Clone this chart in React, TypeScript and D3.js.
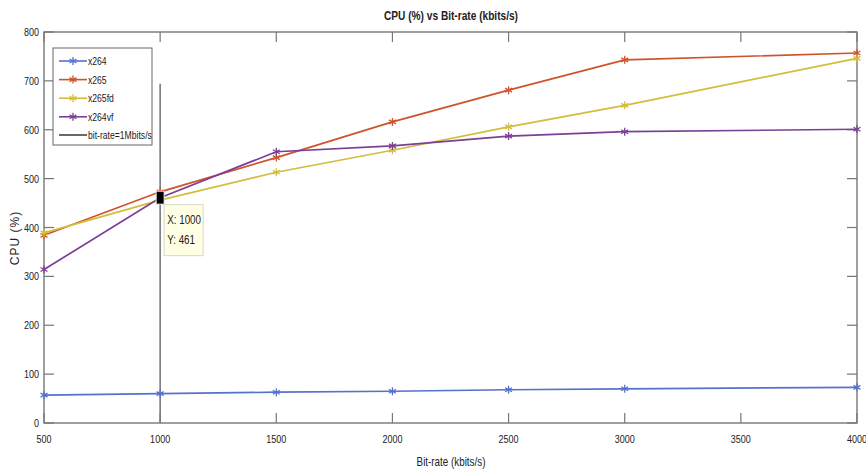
import React from "react";
import * as d3 from "d3";

const bitrates = [500, 1000, 1500, 2000, 2500, 3000, 4000];
const x264 = [57, 60, 63, 65, 68, 70, 73];
const x265 = [384, 473, 543, 616, 681, 743, 757];
const x265fd = [389, 456, 513, 558, 606, 650, 746];
const x264vf = [314, 461, 555, 567, 587, 596, 601];
const seriesNames = ["x264", "x265", "x265fd", "x264vf"];
const seriesColors = ["#5572cc", "#d0522a", "#d2be3a", "#7b3f96"];
const xTicks = [500, 1000, 1500, 2000, 2500, 3000, 3500, 4000];
const yTicks = [0, 100, 200, 300, 400, 500, 600, 700, 800];
const refLineX = 1000;
const refLineTop = 694;
const tipX = 1000;
const tipY = 461;

const W = 866;
const H = 470;
const L = 44, R = 857, T = 32, B = 423;
const FONT = "'Liberation Sans', Arial, sans-serif";
const SX = 0.82;

function Star({ cx, cy, color }: { cx: number; cy: number; color: string }) {
  const r = 4;
  const d = `M${cx},${cy - r}L${cx},${cy + r}M${cx - r * 0.87},${cy - r * 0.5}L${cx + r * 0.87},${cy + r * 0.5}M${cx - r * 0.87},${cy + r * 0.5}L${cx + r * 0.87},${cy - r * 0.5}`;
  return <path d={d} stroke={color} strokeWidth={1.3} fill="none" />;
}

function CText(props: any) {
  const { x, y, children, anchor = "middle", size = 11, weight = "normal", sx = SX } = props;
  return (
    <text
      transform={`translate(${x},${y}) scale(${sx},1)`}
      textAnchor={anchor}
      fontSize={size}
      fontWeight={weight}
      fontFamily={FONT}
      fill="#222"
    >
      {children}
    </text>
  );
}

export default function App() {
  const x = d3.scaleLinear().domain([500, 4000]).range([L, R]);
  const y = d3.scaleLinear().domain([0, 800]).range([B, T]);
  const data = [x264, x265, x265fd, x264vf];
  const line = d3
    .line<[number, number]>()
    .x((d) => x(d[0]))
    .y((d) => y(d[1]));
  const tick = 10;
  const axisColor = "#777";

  const legX = 53, legY = 48, legW = 99, legH = 97;

  return (
    <svg width={W} height={H} style={{ position: "absolute", left: 0, top: 0, background: "#fff" }}>
      <rect x={0} y={0} width={W} height={H} fill="#fff" />
      {/* axes box */}
      <rect x={L} y={T} width={R - L} height={B - T} fill="none" stroke={axisColor} strokeWidth={1.4} />
      {xTicks.map((t) => (
        <g key={"xt" + t}>
          <line x1={x(t)} x2={x(t)} y1={B} y2={B - tick} stroke={axisColor} strokeWidth={1.2} />
          <line x1={x(t)} x2={x(t)} y1={T} y2={T + tick} stroke={axisColor} strokeWidth={1.2} />
          <CText x={x(t)} y={B + 20}>{String(t)}</CText>
        </g>
      ))}
      {yTicks.map((t) => (
        <g key={"yt" + t}>
          <line x1={L} x2={L + tick} y1={y(t)} y2={y(t)} stroke={axisColor} strokeWidth={1.2} />
          <line x1={R} x2={R - tick} y1={y(t)} y2={y(t)} stroke={axisColor} strokeWidth={1.2} />
          <CText x={L - 5} y={y(t) + 4} anchor="end">{String(t)}</CText>
        </g>
      ))}
      {/* reference line */}
      <line x1={x(refLineX)} x2={x(refLineX)} y1={y(0)} y2={y(refLineTop)} stroke="#7a7a7a" strokeWidth={1.6} />
      {/* series */}
      {data.map((vals, i) => {
        const pts: [number, number][] = bitrates.map((b, j) => [b, vals[j]]);
        return (
          <g key={seriesNames[i]}>
            <path d={line(pts) || ""} fill="none" stroke={seriesColors[i]} strokeWidth={1.7} />
            {pts.map((p, j) => (
              <Star key={j} cx={x(p[0])} cy={y(p[1])} color={seriesColors[i]} />
            ))}
          </g>
        );
      })}
      {/* data tip */}
      <rect x={x(tipX) - 4} y={y(tipY) - 6.5} width={8} height={13} fill="#000" stroke="#eee" strokeWidth={1} />
      <rect x={x(tipX) + 4} y={y(tipY) + 7} width={39} height={51} fill="#ffffe4" stroke="#d8d8c8" strokeWidth={1} />
      <CText x={x(tipX) + 7} y={y(tipY) + 26} anchor="start" size={12}>{`X: ${tipX}`}</CText>
      <CText x={x(tipX) + 7} y={y(tipY) + 46} anchor="start" size={12}>{`Y: ${tipY}`}</CText>
      {/* legend */}
      <rect x={legX} y={legY} width={legW} height={legH} fill="#fff" stroke="#666" strokeWidth={1} />
      {seriesNames.map((n, i) => {
        const ly = 61 + i * 18.6;
        return (
          <g key={"lg" + n}>
            <line x1={59} x2={87} y1={ly} y2={ly} stroke={seriesColors[i]} strokeWidth={1.6} />
            <Star cx={73} cy={ly} color={seriesColors[i]} />
            <CText x={88} y={ly + 4} anchor="start" size={10.5}>{n}</CText>
          </g>
        );
      })}
      <line x1={59} x2={87} y1={135} y2={135} stroke="#444" strokeWidth={1.6} />
      <CText x={88} y={139} anchor="start" size={10.5}>bit-rate=1Mbits/s</CText>
      {/* title and labels */}
      <CText x={451} y={20} size={13} weight="bold" sx={0.78}>CPU (%) vs Bit-rate (kbits/s)</CText>
      <CText x={451} y={466} size={12}>Bit-rate (kbits/s)</CText>
      <text
        transform={`translate(19,238) rotate(-90)`}
        textAnchor="middle"
        fontSize={12}
        fontFamily={FONT}
        fill="#222"
        letterSpacing={1}
      >
        CPU (%)
      </text>
    </svg>
  );
}
